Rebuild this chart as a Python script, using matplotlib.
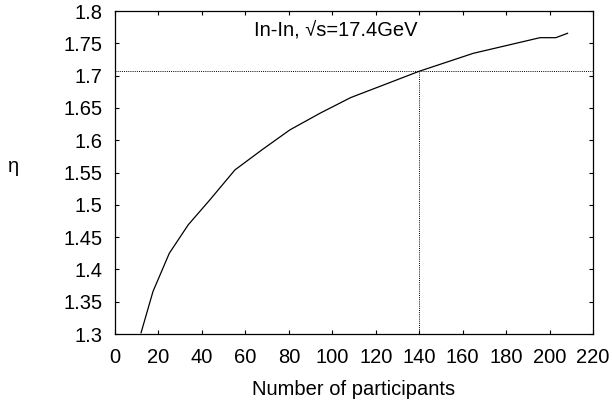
import matplotlib.pyplot as plt

# data
npart = [12, 17.5, 25, 33.7, 43.5, 55.2, 68, 80.5, 94.5, 108.5, 124, 140, 164.9, 195.6, 202.9, 208.3]
eta = [1.302, 1.366, 1.425, 1.469, 1.507, 1.554, 1.586, 1.616, 1.642, 1.666, 1.686, 1.7067, 1.7345, 1.7587, 1.7587, 1.7655]
eta_cut = 1.7067
npart_cut = 140

xticks = list(range(0, 221, 20))
yticks = [1.3, 1.35, 1.4, 1.45, 1.5, 1.55, 1.6, 1.65, 1.7, 1.75, 1.8]
ytick_labels = ['1.3', '1.35', '1.4', '1.45', '1.5', '1.55', '1.6', '1.65', '1.7', '1.75', '1.8']

plt.rcParams['font.family'] = ['Liberation Sans', 'DejaVu Sans']
plt.rcParams['font.size'] = 14.5

fig = plt.figure(figsize=(6.12, 4.03), dpi=100)
ax = fig.add_axes([115 / 612, 1 - 334 / 403, (593 - 115) / 612, (334 - 11) / 403])

ax.plot(npart, eta, color='black', lw=0.9)
ax.plot([0, 220], [eta_cut, eta_cut], color='black', lw=0.7, ls=(0, (1, 1.2)))
ax.plot([npart_cut, npart_cut], [1.3, eta_cut], color='black', lw=0.7, ls=(0, (1, 1.2)))

ax.set_xlim(0, 220)
ax.set_ylim(1.3, 1.8)
ax.set_xticks(xticks)
ax.set_yticks(yticks)
ax.set_yticklabels(ytick_labels)
ax.tick_params(direction='in', length=3, width=0.8, top=True, right=True)
ax.tick_params(axis='x', pad=10)
ax.tick_params(axis='y', pad=9)
for s in ax.spines.values():
    s.set_linewidth(0.9)

ax.text(101.5, 1.771, 'In-In, \u221as=17.4GeV', ha='center', va='center', fontsize=14.5)
ax.set_xlabel('Number of participants')
ax.xaxis.set_label_coords(0.5, -0.143)
ax.set_ylabel('\u03b7', rotation=0)
ax.yaxis.set_label_coords(-0.213, 0.49)

fig.savefig('out.png', dpi=100)
